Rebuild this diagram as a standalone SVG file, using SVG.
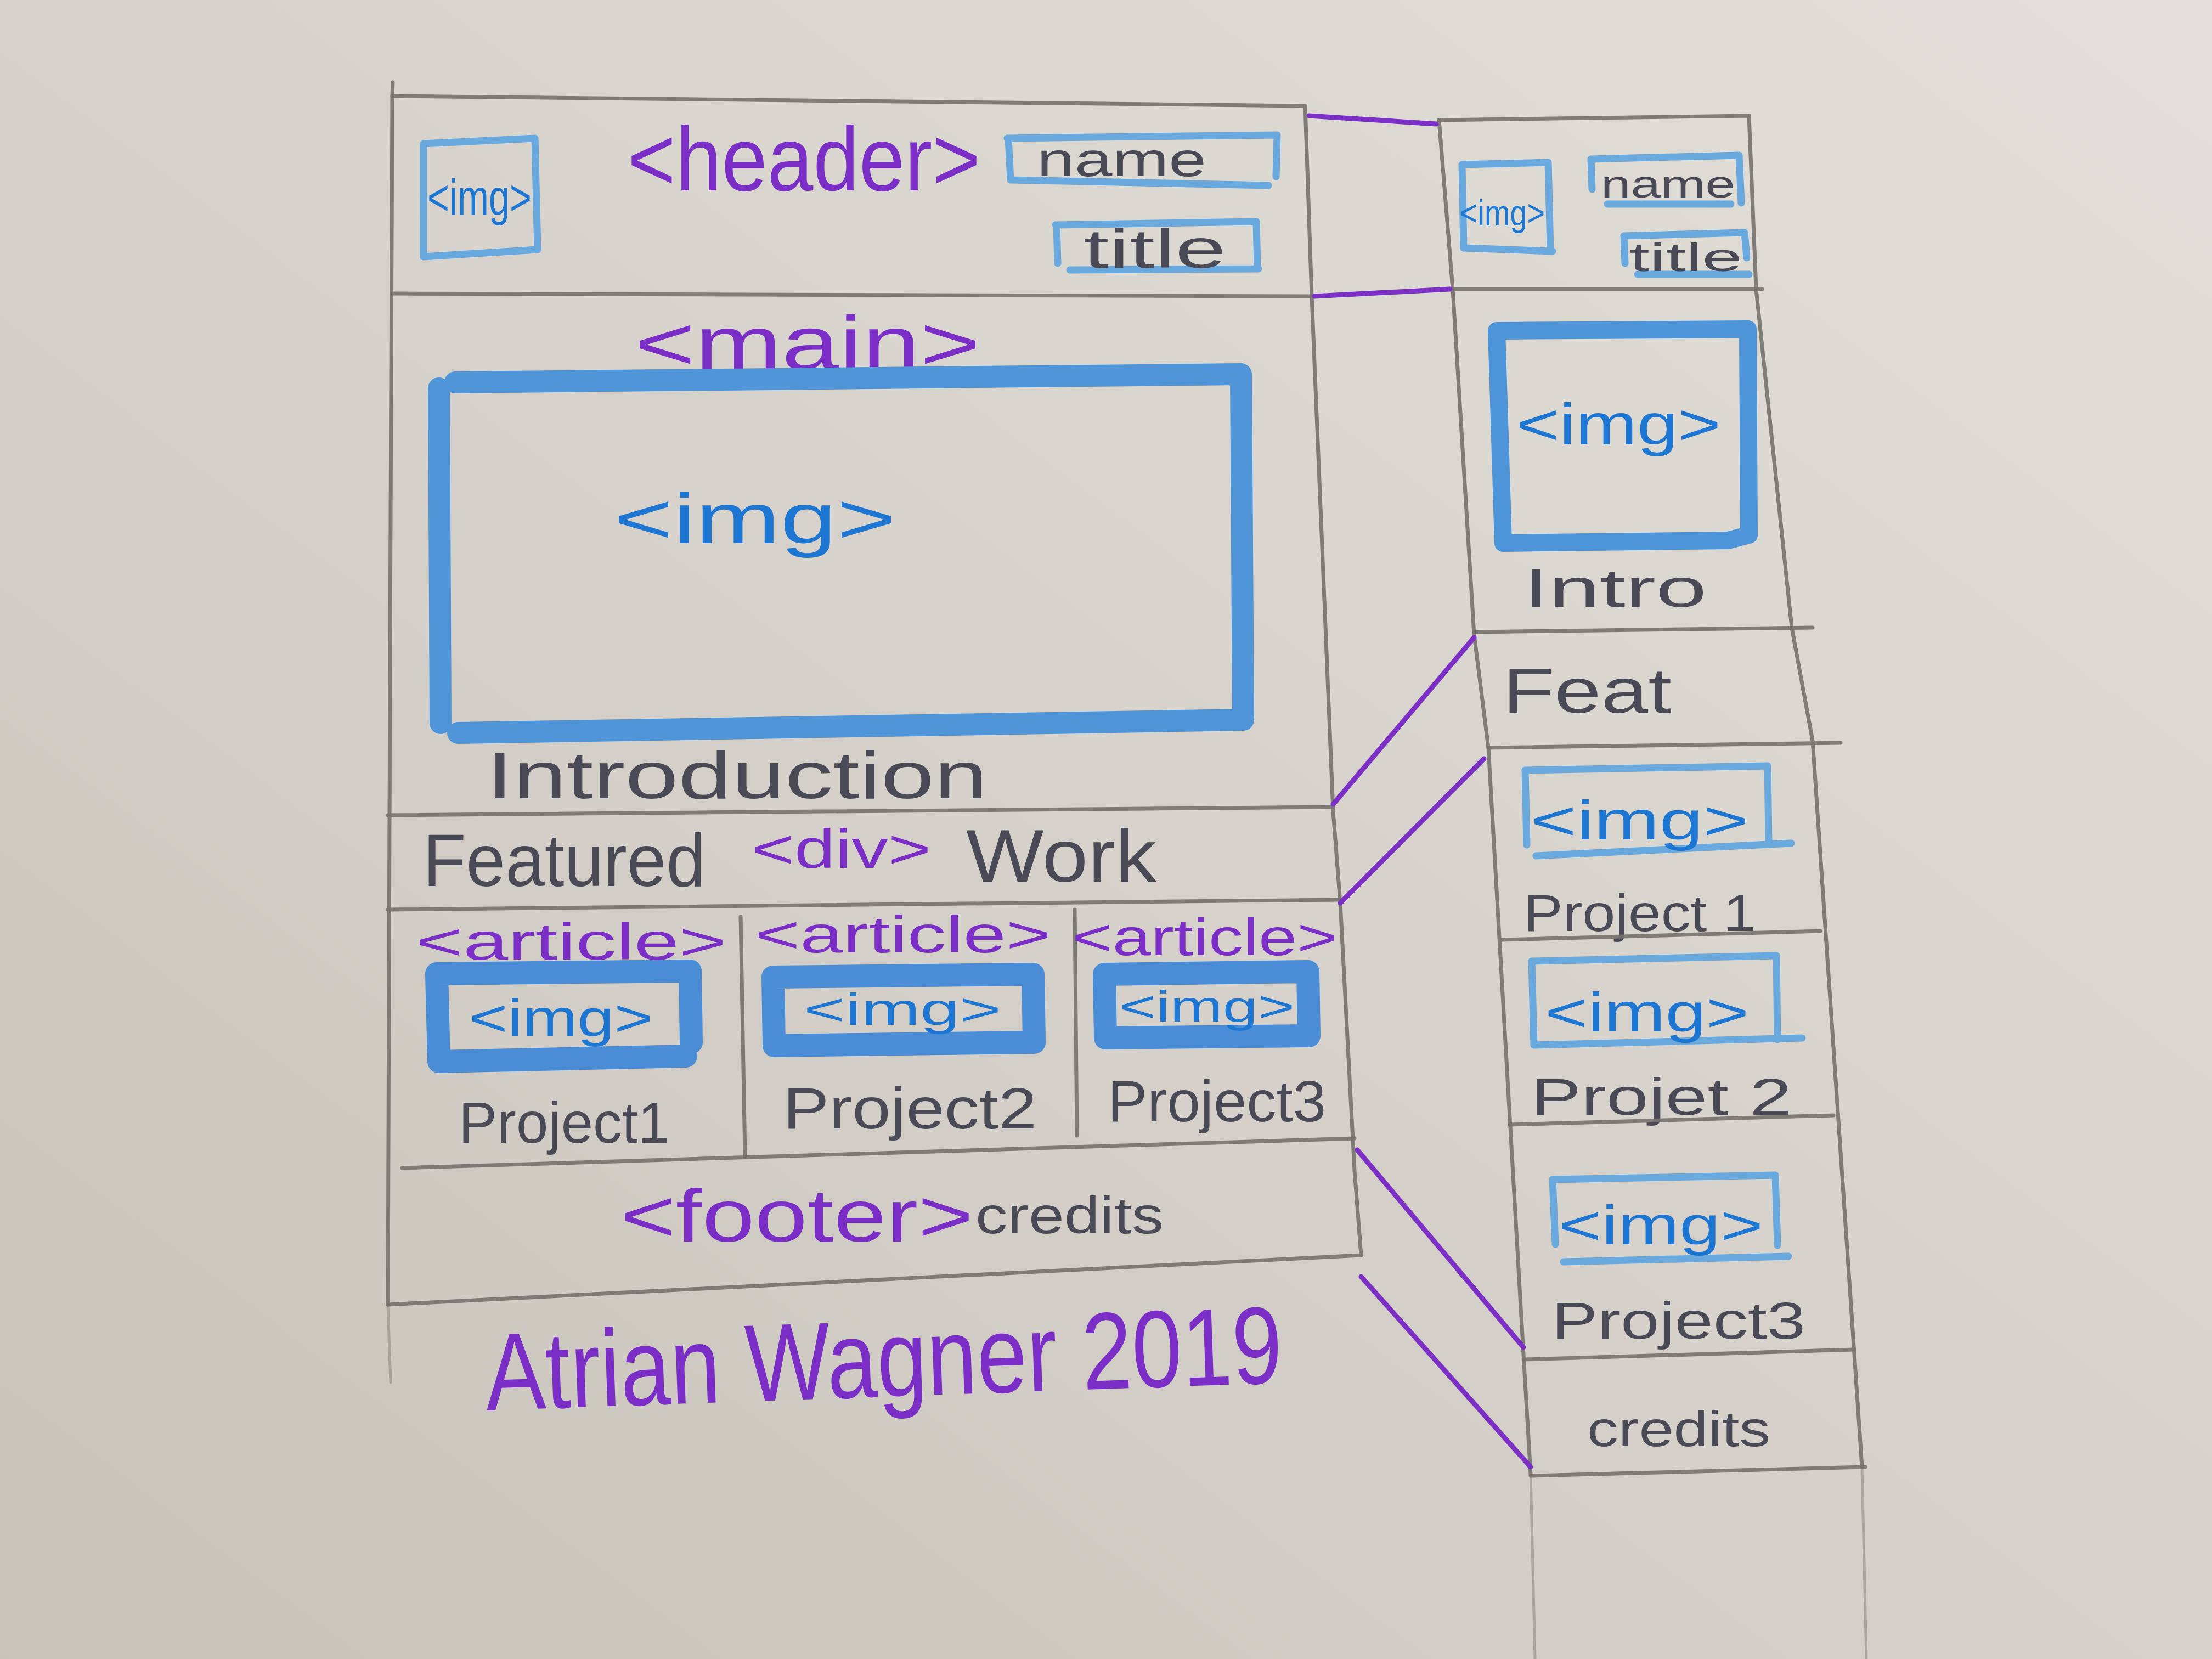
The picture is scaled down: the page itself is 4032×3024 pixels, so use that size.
<svg xmlns="http://www.w3.org/2000/svg" width="4032" height="3024" viewBox="0 0 4032 3024">
<defs>
<linearGradient id="paper" x1="1" y1="0" x2="0" y2="1">
<stop offset="0" stop-color="#e2dfda"/>
<stop offset="0.5" stop-color="#d6d2cb"/>
<stop offset="1" stop-color="#c8c3bb"/>
</linearGradient>
<style>
.pencil{fill:none;stroke:#75716d;stroke-width:7;stroke-linecap:round;stroke-linejoin:round;opacity:.9}
.faint{fill:none;stroke:#8f8b86;stroke-width:5;stroke-linecap:round;opacity:.6}
.conn{fill:none;stroke:#7b2fc4;stroke-width:9;stroke-linecap:round;stroke-linejoin:round}
.bthin{fill:none;stroke:#6aa9de;stroke-width:13;stroke-linecap:round;stroke-linejoin:round}
.bmid{fill:none;stroke:#4d94d8;stroke-width:32;stroke-linecap:round;stroke-linejoin:round}
.bthick{fill:none;stroke:#4f95d8;stroke-width:40;stroke-linecap:round;stroke-linejoin:round}
.bart{fill:none;stroke:#4a8dd6;stroke-width:42;stroke-linecap:round;stroke-linejoin:round}
text{font-family:"Liberation Sans","DejaVu Sans",sans-serif}
.pur{fill:#7a2ec6}
.blu{fill:#1c76d2}
.drk{fill:#4a4a56}
</style>
</defs>
<rect width="4032" height="3024" fill="url(#paper)"/>

<!-- desktop layout -->
<g id="desktop">
<path class="pencil" d="M715 175 L2379 193 L2391 540 L2430 1479 L2443 1646 L2469 2134 L2481 2288"/>
<path class="pencil" d="M716 150 L715 175 L711 1200 L707 2378"/>
<path class="faint" d="M707 2378 L712 2520"/>
</g>

<g id="header">
<path class="pencil" d="M715 535 L2391 540"/>
<path class="bthin" d="M772 262 L975 252 L980 455 L772 468 Z"/>
<text class="blu" x="874" y="392" font-size="92" text-anchor="middle" textLength="190" lengthAdjust="spacingAndGlyphs">&lt;img&gt;</text>
<text class="pur" x="1144" y="347" font-size="165" textLength="643" lengthAdjust="spacingAndGlyphs">&lt;header&gt;</text>
<path class="bthin" d="M1836 252 L2328 246 L2326 322 M1838 252 L1842 328 L2312 338"/>
<text class="drk" x="1890" y="321" font-size="88" textLength="309" lengthAdjust="spacingAndGlyphs">name</text>
<path class="bthin" d="M1924 410 L2290 404 L2292 490 M1926 410 L1928 480 M1950 492 L2294 490"/>
<text class="drk" x="1975" y="488" font-size="100" textLength="260" lengthAdjust="spacingAndGlyphs">title</text>
</g>

<g id="main">
<path class="pencil" d="M707 1486 L2430 1471"/>
<text class="pur" x="1157" y="674" font-size="140" textLength="630" lengthAdjust="spacingAndGlyphs">&lt;main&gt;</text>
<path class="bthick" d="M830 697 L2262 682 L2266 1302 M800 708 L803 1318 M835 1336 L2266 1312"/>
<text class="blu" x="1119" y="990" font-size="130" textLength="514" lengthAdjust="spacingAndGlyphs">&lt;img&gt;</text>
<text class="drk" x="887" y="1455" font-size="120" textLength="913" lengthAdjust="spacingAndGlyphs">Introduction</text>
</g>

<g id="featured">
<path class="pencil" d="M707 1658 L2443 1640"/>
<text class="drk" x="771" y="1615" font-size="135" textLength="515" lengthAdjust="spacingAndGlyphs">Featured</text>
<text class="pur" x="1370" y="1582" font-size="100" textLength="327" lengthAdjust="spacingAndGlyphs">&lt;div&gt;</text>
<text class="drk" x="1761" y="1607" font-size="135" textLength="347" lengthAdjust="spacingAndGlyphs">Work</text>
</g>

<g id="article1">
<path class="bart" d="M796 1775 L1258 1770 L1260 1900 M796 1775 L800 1935 L1250 1925"/>
<text class="pur" x="758" y="1749" font-size="95" textLength="566" lengthAdjust="spacingAndGlyphs">&lt;article&gt;</text>
<text class="blu" x="855" y="1888" font-size="95" textLength="335" lengthAdjust="spacingAndGlyphs">&lt;img&gt;</text>
<text class="drk" x="836" y="2083" font-size="105" textLength="385" lengthAdjust="spacingAndGlyphs">Project1</text>
</g>
<g id="article2">
<path class="pencil" d="M1350 1671 L1358 2108"/>
<path class="bart" d="M1409 1781 L1883 1776 L1885 1900 M1409 1781 L1411 1906 L1885 1900"/>
<text class="pur" x="1376" y="1736" font-size="95" textLength="540" lengthAdjust="spacingAndGlyphs">&lt;article&gt;</text>
<text class="blu" x="1465" y="1868" font-size="82" textLength="360" lengthAdjust="spacingAndGlyphs">&lt;img&gt;</text>
<text class="drk" x="1427" y="2057" font-size="105" textLength="463" lengthAdjust="spacingAndGlyphs">Project2</text>
</g>
<g id="article3">
<path class="pencil" d="M1959 1658 L1963 2070"/>
<path class="bart" d="M2013 1776 L2384 1771 L2386 1888 M2013 1776 L2015 1892 L2386 1888"/>
<text class="pur" x="1954" y="1741" font-size="95" textLength="484" lengthAdjust="spacingAndGlyphs">&lt;article&gt;</text>
<text class="blu" x="2040" y="1862" font-size="80" textLength="320" lengthAdjust="spacingAndGlyphs">&lt;img&gt;</text>
<text class="drk" x="2019" y="2044" font-size="105" textLength="398" lengthAdjust="spacingAndGlyphs">Project3</text>
</g>

<g id="footer">
<path class="pencil" d="M733 2129 L2469 2075"/>
<path class="pencil" d="M707 2378 L2481 2288"/>
<text class="pur" x="1131" y="2263" font-size="135" textLength="643" lengthAdjust="spacingAndGlyphs">&lt;footer&gt;</text>
<text class="drk" x="1778" y="2248" font-size="95" textLength="343" lengthAdjust="spacingAndGlyphs">credits</text>
</g>

<g id="signature">
<text class="pur" x="887" y="2571" font-size="200" transform="rotate(-2 887 2571)" textLength="1453" lengthAdjust="spacingAndGlyphs">Atrian Wagner 2019</text>
</g>

<!-- mobile layout -->
<g id="mobile">
<path class="pencil" d="M2623 219 L3188 211 L3201 527 L3266 1144 L3304 1350 L3394 2674"/>
<path class="pencil" d="M2623 219 L2648 527 L2687 1157 L2713 1363 L2777 2469 L2790 2687"/>
<path class="faint" d="M2790 2687 L2798 3024 M3394 2674 L3402 3024"/>
</g>
<g id="m-header">
<path class="bthin" d="M2665 300 L2822 296 L2826 455 M2665 300 L2668 452 L2830 458"/>
<text class="blu" x="2661" y="411" font-size="66" textLength="155" lengthAdjust="spacingAndGlyphs">&lt;img&gt;</text>
<path class="bthin" d="M2900 290 L3170 283 L3174 370 M2900 290 L2902 345 M2930 372 L3155 372"/>
<text class="drk" x="2918" y="360" font-size="70" textLength="245" lengthAdjust="spacingAndGlyphs">name</text>
<path class="bthin" d="M2960 430 L3180 424 L3184 470 M2960 430 L2962 480 M2985 500 L3188 500"/>
<text class="drk" x="2970" y="494" font-size="72" textLength="206" lengthAdjust="spacingAndGlyphs">title</text>
</g>
<g id="m-intro">
<path class="pencil" d="M2648 527 L3212 527"/>
<path class="bmid" d="M2728 603 L3186 600 L3188 975 M2728 603 L2740 990 L3150 985 L3188 975"/>
<text class="blu" x="2764" y="810" font-size="105" textLength="373" lengthAdjust="spacingAndGlyphs">&lt;img&gt;</text>
<text class="drk" x="2777" y="1106" font-size="98" textLength="334" lengthAdjust="spacingAndGlyphs">Intro</text>
</g>
<g id="m-feat">
<path class="pencil" d="M2687 1152 L3304 1144"/>
<path class="pencil" d="M2713 1363 L3355 1354"/>
<text class="drk" x="2739" y="1299" font-size="115" textLength="308" lengthAdjust="spacingAndGlyphs">Feat</text>
</g>
<g id="m-project1">
<path class="bthin" d="M2780 1404 L3222 1396 L3224 1532 M2780 1404 L2783 1540 M2800 1560 L3265 1537"/>
<text class="blu" x="2790" y="1530" font-size="100" textLength="398" lengthAdjust="spacingAndGlyphs">&lt;img&gt;</text>
<text class="drk" x="2777" y="1697" font-size="95" textLength="424" lengthAdjust="spacingAndGlyphs">Project 1</text>
<path class="pencil" d="M2738 1713 L3318 1697"/>
</g>
<g id="m-project2">
<path class="bthin" d="M2792 1752 L3238 1742 L3240 1895 M2792 1752 L2796 1905 L3285 1892"/>
<text class="blu" x="2816" y="1880" font-size="100" textLength="372" lengthAdjust="spacingAndGlyphs">&lt;img&gt;</text>
<text class="drk" x="2790" y="2032" font-size="95" textLength="476" lengthAdjust="spacingAndGlyphs">Projet 2</text>
<path class="pencil" d="M2752 2050 L3342 2033"/>
</g>
<g id="m-project3">
<path class="bthin" d="M2830 2150 L3236 2142 L3240 2270 M2830 2150 L2835 2268 M2850 2300 L3260 2290"/>
<text class="blu" x="2841" y="2268" font-size="100" textLength="373" lengthAdjust="spacingAndGlyphs">&lt;img&gt;</text>
<text class="drk" x="2828" y="2440" font-size="95" textLength="463" lengthAdjust="spacingAndGlyphs">Project3</text>
<path class="pencil" d="M2777 2478 L3380 2460"/>
</g>
<g id="m-credits">
<text class="drk" x="2893" y="2636" font-size="90" textLength="334" lengthAdjust="spacingAndGlyphs">credits</text>
<path class="pencil" d="M2790 2690 L3400 2674"/>
</g>

<!-- connectors -->
<g id="connectors">
<path class="conn" d="M2386 211 L2618 226"/>
<path class="conn" d="M2396 540 L2643 527"/>
<path class="conn" d="M2430 1466 L2687 1162"/>
<path class="conn" d="M2443 1646 L2705 1383"/>
<path class="conn" d="M2474 2096 L2777 2456"/>
<path class="conn" d="M2481 2327 L2790 2674"/>
</g>
</svg>
